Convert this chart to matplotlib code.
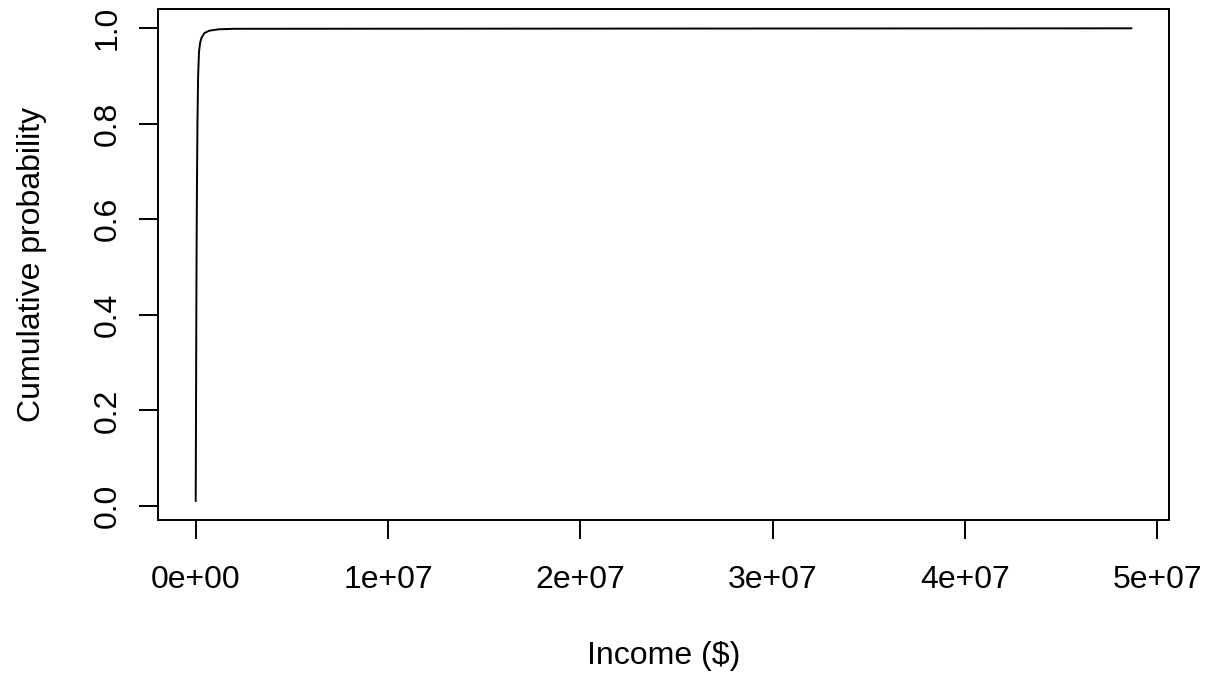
"""Cumulative distribution of income, R base-graphics look"""

import matplotlib
matplotlib.use("Agg")
import matplotlib.pyplot as plt

# quantiles
prob = [0.01, 0.05, 0.10, 0.20, 0.30, 0.40, 0.50, 0.60, 0.70, 0.80,
        0.90, 0.95, 0.97, 0.98, 0.99, 0.995, 0.998, 0.999, 1.0]
income = [0, 3e3, 8e3, 1.6e4, 2.4e4, 3.2e4, 4.2e4, 5.4e4, 7e4, 9e4,
          1.25e5, 1.7e5, 2.3e5, 3.0e5, 4.5e5, 7e5, 1.2e6, 2.0e6, 4.867e7]

x_ticks = [0, 1e7, 2e7, 3e7, 4e7, 5e7]
x_labels = ["0e+00", "1e+07", "2e+07", "3e+07", "4e+07", "5e+07"]
y_ticks = [0.0, 0.2, 0.4, 0.6, 0.8, 1.0]
y_labels = ["0.0", "0.2", "0.4", "0.6", "0.8", "1.0"]

plt.rcParams["font.family"] = ["Liberation Sans", "DejaVu Sans"]
plt.rcParams["font.size"] = 23

fig = plt.figure(figsize=(12.11, 6.77), dpi=100)
ax = fig.add_axes([0.1307, 0.2318, 0.9653 - 0.1307, 0.9861 - 0.2318])

ax.plot(income, prob, color="black", lw=1.4, solid_capstyle="round")

# R style: 4% padding on each side
xr = max(income) - min(income)
yr = max(prob) - min(prob)
ax.set_xlim(min(income) - 0.04 * xr, max(income) + 0.04 * xr)
ax.set_ylim(min(prob) - 0.04 * yr, max(prob) + 0.04 * yr)

ax.set_xticks(x_ticks)
ax.set_xticklabels(x_labels)
ax.set_yticks(y_ticks)
ax.set_yticklabels(y_labels, rotation=90, va="center")

for s in ax.spines.values():
    s.set_linewidth(1.4)
ax.tick_params(axis="both", length=13.4, width=1.4, labelsize=23)
ax.tick_params(axis="x", pad=19)
ax.tick_params(axis="y", pad=12)

ax.set_xlabel("Income ($)", labelpad=33)
ax.set_ylabel("Cumulative probability", labelpad=33)

fig.savefig("out.png", dpi=100)
